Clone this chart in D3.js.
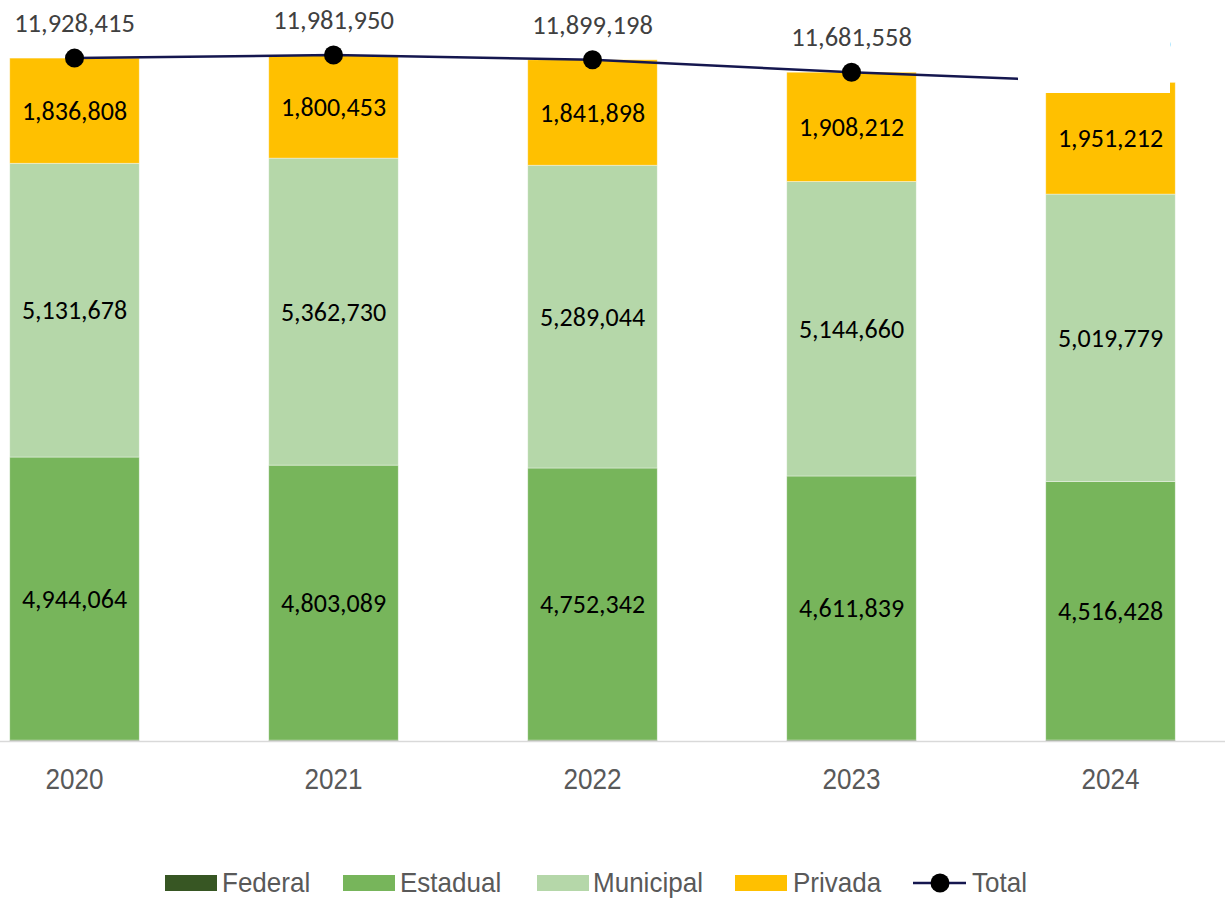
<!DOCTYPE html>
<html>
<head>
<meta charset="utf-8">
<script src="https://cdn.jsdelivr.net/npm/d3@7"></script>
<style>
  html, body { margin: 0; padding: 0; background: #fff; }
  svg { display: block; }
</style>
</head>
<body>
<svg id="chart" width="1225" height="898"></svg>
<script>
const years = ["2020", "2021", "2022", "2023", "2024"];
const federal   = [15865, 15678, 15914, 16847, 17000];
const estadual  = [4944064, 4803089, 4752342, 4611839, 4516428];
const municipal = [5131678, 5362730, 5289044, 5144660, 5019779];
const privada   = [1836808, 1800453, 1841898, 1908212, 1951212];
const total     = [11928415, 11981950, 11899198, 11681558, 11504419];
const seriesNames = ["Federal", "Estadual", "Municipal", "Privada"];
const seriesValues = [federal, estadual, municipal, privada];
const colors = ["#375623", "#77B55B", "#B5D7A9", "#FFC000"];
const lineColor = "#15174f";

const svg = d3.select("#chart");
const W = 1225, baseY = 741;

const x = d3.scaleBand().domain(years).range([-55, 1240]).paddingInner(0.5).paddingOuter(0.25);
const y = d3.scaleLinear().domain([0, 12000000]).range([baseY, 54]);

const rows = years.map((yr, i) => {
  const r = { year: yr };
  seriesNames.forEach((s, k) => r[s] = seriesValues[k][i]);
  return r;
});
const stack = d3.stack().keys(seriesNames)(rows);

const fmt = d3.format(",");
const labelFont = "Carlito, Lato, sans-serif";

// bars
stack.forEach((layer, k) => {
  const g = svg.append("g");
  g.selectAll("rect").data(layer).enter().append("rect")
    .attr("x", d => x(d.data.year))
    .attr("width", x.bandwidth())
    .attr("y", d => y(d[1]))
    .attr("height", d => y(d[0]) - y(d[1]))
    .attr("fill", colors[k])
    .attr("stroke", "#ffffff")
    .attr("stroke-opacity", 0.5)
    .attr("stroke-width", 0.75);
  if (k > 0) {
    g.selectAll("text").data(layer).enter().append("text")
      .attr("x", d => x(d.data.year) + x.bandwidth() / 2)
      .attr("y", d => (y(d[0]) + y(d[1])) / 2)
      .attr("dy", "0.35em")
      .attr("text-anchor", "middle")
      .attr("font-family", labelFont)
      .attr("font-size", 26)
      .attr("fill", "#000")
      .text(d => fmt(d[1] - d[0]));
  }
});

// axis baseline
svg.append("line")
  .attr("x1", 0).attr("x2", W)
  .attr("y1", baseY + 0.5).attr("y2", baseY + 0.5)
  .attr("stroke", "#d9d9d9").attr("stroke-width", 1.5);

// x axis labels
const xAxis = svg.append("g").attr("transform", `translate(0,${baseY})`)
  .call(d3.axisBottom(x).tickSize(0).tickPadding(0));
xAxis.select(".domain").remove();
xAxis.selectAll(".tick text")
  .attr("font-family", "'Liberation Sans', Arial, sans-serif")
  .attr("font-size", 29)
  .attr("fill", "#595959")
  .attr("y", 0).attr("dy", 0)
  .attr("transform", "translate(0,48) scale(0.9,1)");

// total line
const cx = (d, i) => x(years[i]) + x.bandwidth() / 2;
const line = d3.line().x((d, i) => cx(d, i)).y(d => y(d));
svg.append("path").datum(total)
  .attr("d", line)
  .attr("fill", "none")
  .attr("stroke", lineColor)
  .attr("stroke-width", 2.5);
svg.append("g").selectAll("circle").data(total).enter().append("circle")
  .attr("cx", cx).attr("cy", d => y(d)).attr("r", 9.5).attr("fill", "#000");
svg.append("g").selectAll("text").data(total).enter().append("text")
  .attr("x", cx).attr("y", d => y(d) - 26)
  .attr("text-anchor", "middle")
  .attr("font-family", labelFont)
  .attr("font-size", 26.5)
  .attr("fill", "#404040")
  .text(d => fmt(d));

// white mask over the last point area (as in the reference)
svg.append("rect")
  .attr("x", 1018).attr("y", 0).attr("width", 152).attr("height", 93)
  .attr("fill", "#fff");

// legend
const legendItems = [
  { name: "Federal", type: "rect", color: colors[0], x: 165, tx: 222 },
  { name: "Estadual", type: "rect", color: colors[1], x: 343, tx: 400 },
  { name: "Municipal", type: "rect", color: colors[2], x: 537, tx: 593 },
  { name: "Privada", type: "rect", color: colors[3], x: 735, tx: 793 },
  { name: "Total", type: "line", color: lineColor, x: 913, tx: 972 }
];
const lg = svg.append("g");
legendItems.forEach(it => {
  if (it.type === "rect") {
    lg.append("rect").attr("x", it.x).attr("y", 875).attr("width", 52).attr("height", 16).attr("fill", it.color);
  } else {
    lg.append("line").attr("x1", it.x).attr("x2", it.x + 53).attr("y1", 883).attr("y2", 883)
      .attr("stroke", it.color).attr("stroke-width", 2.5);
    lg.append("circle").attr("cx", it.x + 27).attr("cy", 883).attr("r", 9.5).attr("fill", "#000");
  }
  lg.append("text")
    .attr("transform", `translate(${it.tx},892) scale(0.93,1)`)
    .attr("font-family", "'Liberation Sans', Arial, sans-serif")
    .attr("font-size", 28)
    .attr("fill", "#595959")
    .text(it.name);
});
</script>
</body>
</html>
